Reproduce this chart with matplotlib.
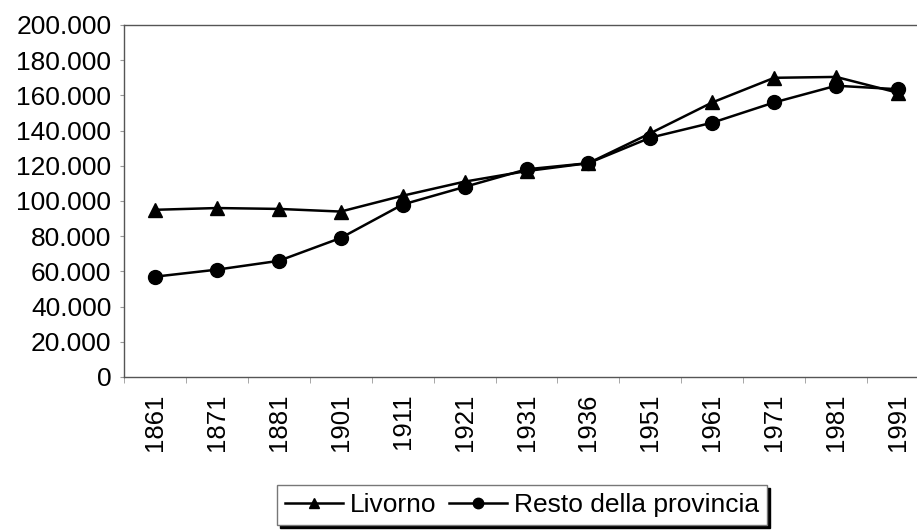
import matplotlib.pyplot as plt
from matplotlib.ticker import FuncFormatter

plt.rcParams['font.family'] = ['Liberation Sans', 'DejaVu Sans']

anni = ["1861", "1871", "1881", "1901", "1911", "1921", "1931",
        "1936", "1951", "1961", "1971", "1981", "1991"]
livorno = [95000, 96000, 95500, 94000, 103000, 111000, 117000,
           121500, 138500, 156000, 170000, 170500, 161500]
resto = [57000, 61000, 66000, 79000, 98000, 108000, 118000,
         121500, 136000, 144500, 156000, 165500, 163500]

fig = plt.figure(figsize=(9.17, 5.31), dpi=100)
ax = fig.add_axes([124 / 917, 1 - 377 / 531, 805 / 917, 352 / 531])

x = range(len(anni))
ax.plot(x, livorno, color='black', lw=1.8, marker='^', markersize=10, label='Livorno')
ax.plot(x, resto, color='black', lw=1.8, marker='o', markersize=10, label='Resto della provincia')

ax.set_xlim(-0.5, len(anni) - 0.5)
ax.set_ylim(0, 200000)
ax.set_yticks(range(0, 200001, 20000))
ax.yaxis.set_major_formatter(FuncFormatter(lambda v, p: f"{int(v):,}".replace(",", ".")))
ax.set_xticks(list(x))
ax.set_xticklabels(anni, rotation=90)
ax.set_xticks([i - 0.5 for i in range(len(anni) + 1)], minor=True)
ax.tick_params(axis='x', which='major', length=0, labelsize=18.5, pad=12)
ax.tick_params(axis='x', which='minor', length=4, color='#999999')
ax.tick_params(axis='y', length=3, color='#999999', labelsize=19, pad=6)
for s in ax.spines.values():
    s.set_color('#555555')
    s.set_linewidth(1)

leg = fig.legend(loc='upper left', bbox_to_anchor=(277 / 917, 1 - 485 / 531), ncol=2,
                 fontsize=19, frameon=True, fancybox=False, edgecolor='#777777',
                 handlelength=2.2, handletextpad=0.25, columnspacing=0.5,
                 borderaxespad=0, borderpad=0.3, markerscale=0.75,
                 shadow={'color': 'black', 'alpha': 1})

fig.savefig("out.png", dpi=100)
